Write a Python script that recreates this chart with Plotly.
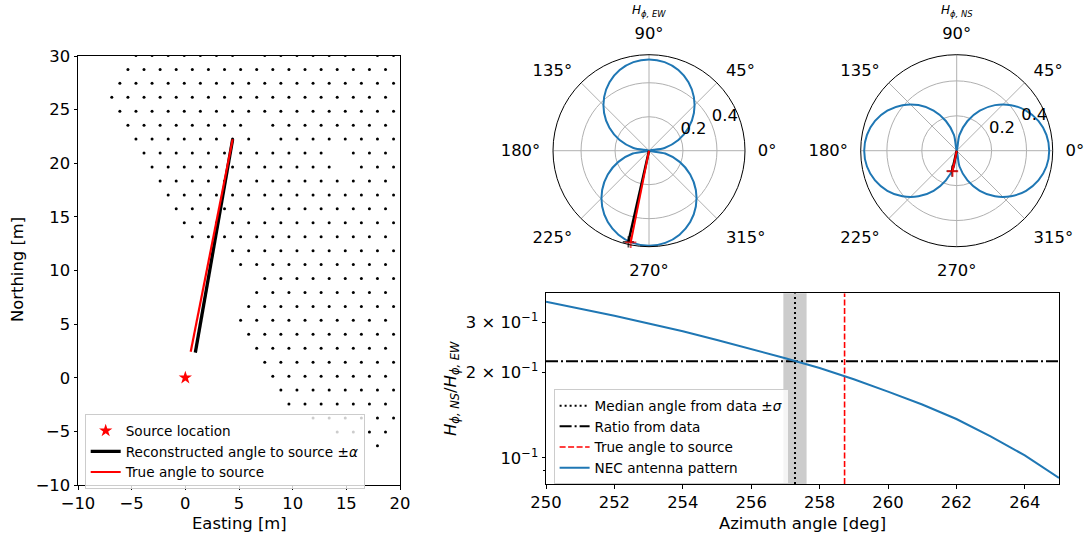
import math
import plotly.graph_objects as go

W, H = 1086, 543
FONT = "DejaVu Sans"
FS = 16.4       # tick / axis label size
FS_LEG = 13.6   # legend size

# ---------------- Left panel: receiver array (hexagonal lattice) -------------
LAT_DX = 1.5          # column spacing [m]
LAT_DY = 1.3          # row spacing [m]
LAT_Y0 = 30.05        # northing of the top row [m]
LAT_X0_EVEN = -4.6    # easting of column 0 on even rows [m]
LAT_X0_ODD = -5.35    # easting of column 0 on odd rows [m]
ROW_FIRST = [0, 0, -1, -1, -1, 0, 0, 1, 1, 2, 2, 3, 3, 4, 6, 7, 8, 8, 7, 7, 7, 8, 8, 9, 9, 10, 11, 13, 15]
ROW_LAST = [16, 16, 16, 16, 16, 16, 16, 16, 16, 16, 16, 16, 16, 16, 16, 16, 16, 16, 16, 16,
            16, 16, 16, 16, 16, 16, 16, 16, 15]
ROW_MISSING = {0: [7, 14], 5: [8], 6: [8], 7: [13], 8: [13], 11: [8]}

SRC_E = [0.0]
SRC_N = [0.0]
REC_E = [4.41, 0.93]
REC_N = [22.23, 2.34]
TRUE_E = [4.41, 0.50]
TRUE_N = [22.23, 2.43]

# ---------------- Polar patterns -------------
POL_THETA = [0, 10, 20, 30, 40, 50, 60, 70, 80, 90, 100, 110, 120, 130, 140, 150, 160, 170, 180,
             190, 200, 210, 220, 230, 240, 250, 260, 270, 280, 290, 300, 310, 320, 330, 340, 350, 360]
EW_R = [0.0, 0.093, 0.184, 0.269, 0.345, 0.411, 0.465, 0.505, 0.529, 0.537, 0.529, 0.505, 0.465,
        0.411, 0.345, 0.269, 0.184, 0.093, 0.0, 0.097, 0.192, 0.280, 0.360, 0.429, 0.485, 0.526,
        0.551, 0.560, 0.551, 0.526, 0.485, 0.429, 0.360, 0.280, 0.192, 0.097, 0.0]
NS_R = [0.530, 0.522, 0.498, 0.459, 0.406, 0.341, 0.265, 0.181, 0.092, 0.0, 0.092, 0.181, 0.265,
        0.341, 0.406, 0.459, 0.498, 0.522, 0.530, 0.522, 0.498, 0.459, 0.406, 0.341, 0.265, 0.181,
        0.092, 0.0, 0.092, 0.181, 0.265, 0.341, 0.406, 0.459, 0.498, 0.522, 0.530]
EW_AMP = 0.55
NS_AMP = 0.12
EW_RMAX = 0.565
NS_RMAX = 0.55
POL_TICKS = [0, 45, 90, 135, 180, 225, 270, 315]
POL_TICKTEXT = ["0°", "45°", "90°", "135°", "180°", "225°", "270°", "315°"]
R_TICKS = [0.2, 0.4]
R_TICKTEXT = ["0.2", "0.4"]
R_LABEL_ANGLE = 22.5

# ---------------- Bottom panel -------------
AZ = [250, 251, 252, 253, 254, 255, 256, 257, 258, 259, 260, 261, 262, 263, 264, 265]
NEC = [0.354, 0.335, 0.316, 0.297, 0.279, 0.260, 0.242, 0.224, 0.207, 0.189, 0.171, 0.154,
       0.137, 0.119, 0.102, 0.085]
MEDIAN_ANGLE = 257.28
SIGMA = 0.34
TRUE_ANGLE = 258.73
DATA_RATIO = 0.2185
Y2_MIN, Y2_MAX = 0.0809, 0.3793

# lattice points
lat_e, lat_n = [], []
for k, (j0, j1) in enumerate(zip(ROW_FIRST, ROW_LAST)):
    x0 = LAT_X0_EVEN if k % 2 == 0 else LAT_X0_ODD
    for j in range(j0, j1 + 1):
        if j in ROW_MISSING.get(k, []):
            continue
        lat_e.append(x0 + LAT_DX * j)
        lat_n.append(LAT_Y0 - LAT_DY * k)

fig = go.Figure()

# Left panel
fig.add_trace(go.Scatter(x=lat_e, y=lat_n, mode="markers", marker=dict(size=3, color="black"),
                         showlegend=False, xaxis="x", yaxis="y", hoverinfo="skip"))
fig.add_trace(go.Scatter(x=SRC_E, y=SRC_N, mode="markers",
                         marker=dict(symbol="star", size=10, color="red", line=dict(width=0)),
                         name="Source location", legend="legend", xaxis="x", yaxis="y"))
fig.add_trace(go.Scatter(x=REC_E, y=REC_N, mode="lines", line=dict(color="black", width=3.3),
                         name="Reconstructed angle to source ±<i>α</i>", legend="legend",
                         xaxis="x", yaxis="y"))
fig.add_trace(go.Scatter(x=TRUE_E, y=TRUE_N, mode="lines", line=dict(color="red", width=2.2),
                         name="True angle to source", legend="legend", xaxis="x", yaxis="y"))


def pol_lines(sub, amp):
    fig.add_trace(go.Scatterpolar(theta=[MEDIAN_ANGLE, MEDIAN_ANGLE], r=[0, amp], mode="lines+markers",
                                  line=dict(color="black", width=2.5),
                                  marker=dict(symbol="cross-thin", size=[0, 8], line=dict(width=1.8, color="black")),
                                  subplot=sub, showlegend=False))
    fig.add_trace(go.Scatterpolar(theta=[TRUE_ANGLE, TRUE_ANGLE], r=[0, amp], mode="lines+markers",
                                  line=dict(color="red", width=2),
                                  marker=dict(symbol="cross-thin", size=[0, 8], line=dict(width=1.8, color="red")),
                                  subplot=sub, showlegend=False))
    fig.add_trace(go.Scatterpolar(theta=[R_LABEL_ANGLE] * len(R_TICKS), r=R_TICKS, mode="text",
                                  text=R_TICKTEXT, textposition="top right",
                                  textfont=dict(family=FONT, size=FS, color="black"),
                                  subplot=sub, showlegend=False, hoverinfo="skip"))


fig.add_trace(go.Scatterpolar(theta=POL_THETA, r=EW_R, mode="lines",
                              line=dict(color="#1f77b4", width=2, shape="spline"),
                              subplot="polar", showlegend=False))
pol_lines("polar", EW_AMP)
fig.add_trace(go.Scatterpolar(theta=POL_THETA, r=NS_R, mode="lines",
                              line=dict(color="#1f77b4", width=2, shape="spline"),
                              subplot="polar2", showlegend=False))
pol_lines("polar2", NS_AMP)

# Bottom panel
fig.add_trace(go.Scatter(x=[MEDIAN_ANGLE, MEDIAN_ANGLE], y=[Y2_MIN, Y2_MAX], mode="lines",
                         line=dict(color="black", width=2, dash="2px,3px"),
                         name="Median angle from data ±<i>σ</i>", legend="legend2", xaxis="x2", yaxis="y2"))
fig.add_trace(go.Scatter(x=[AZ[0], AZ[-1]], y=[DATA_RATIO, DATA_RATIO], mode="lines",
                         line=dict(color="black", width=2, dash="12px,3px,2px,3px"),
                         name="Ratio from data", legend="legend2", xaxis="x2", yaxis="y2"))
fig.add_trace(go.Scatter(x=[TRUE_ANGLE, TRUE_ANGLE], y=[Y2_MIN, Y2_MAX], mode="lines",
                         line=dict(color="red", width=1.6, dash="6px,2.5px"),
                         name="True angle to source", legend="legend2", xaxis="x2", yaxis="y2"))
fig.add_trace(go.Scatter(x=AZ, y=NEC, mode="lines", line=dict(color="#1f77b4", width=2),
                         name="NEC antenna pattern", legend="legend2", xaxis="x2", yaxis="y2"))

fig.add_shape(type="rect", xref="x2", yref="y2 domain", x0=MEDIAN_ANGLE - SIGMA, x1=MEDIAN_ANGLE + SIGMA,
              y0=0, y1=1, fillcolor="rgba(128,128,128,0.4)", line=dict(width=0), layer="below")


def px_x(p):
    return p / W


def px_y(p):
    return (H - p) / H


axis_common = dict(showline=True, mirror=True, linecolor="black", linewidth=1, ticks="outside",
                   ticklen=3.5, tickwidth=1, tickcolor="black", showgrid=False, zeroline=False,
                   automargin=False, tickfont=dict(family=FONT, size=FS, color="black"))


def polar_cfg(cx, cy, rad, rmax):
    return dict(
        domain=dict(x=[px_x(cx - rad), px_x(cx + rad)], y=[px_y(cy + rad), px_y(cy - rad)]),
        bgcolor="white",
        angularaxis=dict(rotation=0, direction="counterclockwise", tickmode="array", tickvals=POL_TICKS,
                         ticktext=POL_TICKTEXT, showline=True, linecolor="black", linewidth=1,
                         gridcolor="#b0b0b0", gridwidth=1, ticks="outside", ticklen=9,
                         tickcolor="rgba(0,0,0,0)",
                         tickfont=dict(family=FONT, size=FS, color="black")),
        radialaxis=dict(range=[0, rmax], tickvals=R_TICKS, angle=R_LABEL_ANGLE, showticklabels=False,
                        showline=False, ticks="", gridcolor="#b0b0b0", gridwidth=1),
    )


fig.update_layout(
    width=W, height=H, margin=dict(l=0, r=0, t=0, b=0, autoexpand=False),
    paper_bgcolor="white", plot_bgcolor="white",
    font=dict(family=FONT, size=FS, color="black"),
    xaxis=dict(domain=[px_x(78), px_x(400)], range=[-10, 20], tickvals=[-10, -5, 0, 5, 10, 15, 20],
               anchor="y", **axis_common),
    yaxis=dict(domain=[px_y(485), px_y(56)], range=[-10, 30], tickvals=[-10, -5, 0, 5, 10, 15, 20, 25, 30],
               anchor="x", **axis_common),
    xaxis2=dict(domain=[px_x(546), px_x(1059)], range=[250, 265], tickvals=[250, 252, 254, 256, 258, 260, 262, 264],
                anchor="y2", **axis_common),
    yaxis2=dict(domain=[px_y(484), px_y(293.3)], type="log",
                range=[math.log10(Y2_MIN), math.log10(Y2_MAX)],
                tickvals=[0.1, 0.2, 0.3],
                ticktext=["10<sup>−1</sup>", "2 × 10<sup>−1</sup>", "3 × 10<sup>−1</sup>"],
                minor=dict(tickvals=[0.09], ticks="outside", ticklen=2, tickcolor="black"),
                anchor="x2", **axis_common),
    polar=polar_cfg(649, 150.7, 96, EW_RMAX),
    polar2=polar_cfg(956.7, 150.7, 96, NS_RMAX),
    legend=dict(x=px_x(84.7), y=px_y(414.3), xanchor="left", yanchor="top",
                bgcolor="rgba(255,255,255,0.8)", bordercolor="#cccccc", borderwidth=1,
                font=dict(family=FONT, size=FS_LEG, color="black"), tracegroupgap=0, itemwidth=30),
    legend2=dict(x=px_x(553.6), y=px_y(389.3), xanchor="left", yanchor="top",
                 bgcolor="rgba(255,255,255,0.8)", bordercolor="#cccccc", borderwidth=1,
                 font=dict(family=FONT, size=FS_LEG, color="black"), tracegroupgap=0, itemwidth=30),
)

ann_common = dict(xref="paper", yref="paper", showarrow=False, xanchor="center", yanchor="middle")
ann = [
    dict(text="Easting [m]", x=px_x(239), y=px_y(523), font=dict(size=FS), **ann_common),
    dict(text="Northing [m]", x=px_x(17), y=px_y(270), textangle=-90, font=dict(size=FS), **ann_common),
    dict(text="Azimuth angle [deg]", x=px_x(802), y=px_y(523), font=dict(size=FS), **ann_common),
    dict(text="<i>H</i><sub><i>ϕ, NS</i></sub>/<i>H</i><sub><i>ϕ, EW</i></sub>", x=px_x(451), y=px_y(389),
         textangle=-90, font=dict(size=FS), **ann_common),
    dict(text="<i>H</i><sub><i>ϕ, EW</i></sub>", x=px_x(649), y=px_y(11), font=dict(size=12), **ann_common),
    dict(text="<i>H</i><sub><i>ϕ, NS</i></sub>", x=px_x(956.7), y=px_y(11), font=dict(size=12), **ann_common),
]
fig.update_layout(annotations=ann)

fig.write_html("out.html")
